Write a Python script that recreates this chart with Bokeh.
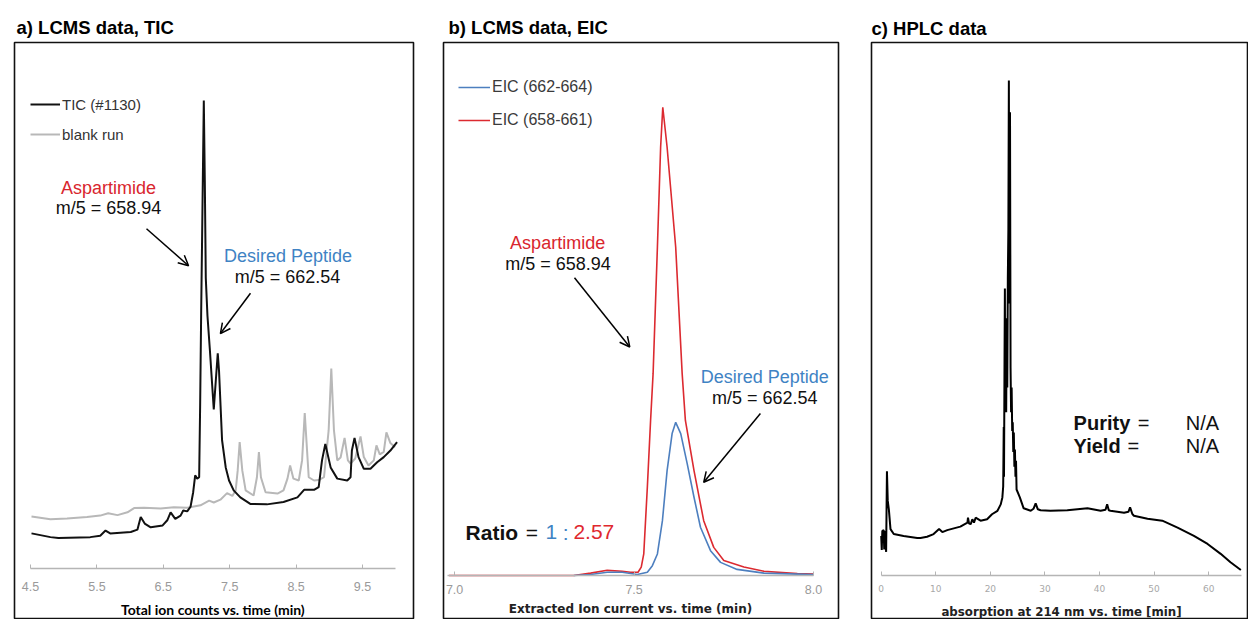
from bokeh.plotting import figure
from bokeh.layouts import row
from bokeh.models import (Label, Arrow, OpenHead, Legend, LegendItem, FixedTicker, Range1d,
                          PrintfTickFormatter)
from bokeh.embed import file_html
from bokeh.resources import INLINE

# ---------------- Panel a: LCMS TIC ----------------
tic_time = [4.515, 4.80, 4.92, 5.40, 5.55, 5.63, 5.70, 6.01, 6.11, 6.16, 6.22, 6.31, 6.49, 6.56,
            6.61, 6.68, 6.76, 6.80, 6.86, 6.91, 6.95, 6.98, 7.01, 7.04, 7.055, 7.07, 7.095, 7.11,
            7.125, 7.14, 7.165, 7.20, 7.26, 7.29, 7.32, 7.34, 7.385, 7.44, 7.49, 7.56, 7.66, 7.81,
            8.06, 8.31, 8.52, 8.62, 8.77, 8.84, 8.89, 8.94, 9.02, 9.12, 9.27, 9.32, 9.34, 9.38,
            9.44, 9.52, 9.62, 9.72, 9.82, 9.92, 10.02]
tic_counts = [7.5, 6.7, 6.5, 6.7, 7.0, 8.1, 7.5, 7.8, 8.3, 11.0, 9.6, 8.8, 9.2, 10.3,
              12.0, 10.6, 11.3, 12.4, 12.2, 13.2, 16.3, 19.9, 19.2, 19.5, 35.0, 54.4, 82.9, 100.0,
              82.9, 62.0, 54.0, 47.0, 34.0, 40.0, 46.0, 42.0, 27.4, 21.6, 18.8, 16.7, 15.2, 13.8,
              13.7, 14.2, 15.2, 16.8, 16.8, 17.4, 23.1, 26.6, 21.6, 19.2, 18.8, 19.5, 25.2, 27.9,
              23.8, 21.3, 21.3, 22.7, 23.8, 25.2, 27.0]
blank_time = [4.515, 4.80, 5.05, 5.35, 5.55, 5.67, 5.81, 5.96, 6.06, 6.21, 6.46, 6.66, 6.86,
              7.06, 7.19, 7.26, 7.36, 7.46, 7.54, 7.59, 7.62, 7.65, 7.69, 7.74, 7.86, 7.91,
              7.94, 7.97, 8.04, 8.22, 8.31, 8.37, 8.41, 8.46, 8.54, 8.59, 8.63, 8.69, 8.77,
              8.84, 8.92, 8.99, 9.03, 9.07, 9.12, 9.17, 9.23, 9.28, 9.32, 9.39, 9.47, 9.52,
              9.59, 9.67, 9.71, 9.76, 9.82, 9.86, 9.92, 9.99]
blank_counts = [11.1, 10.5, 10.7, 11.0, 11.3, 11.8, 11.4, 12.0, 12.9, 13.0, 12.8, 13.1, 13.0,
                13.5, 14.5, 14.1, 14.7, 16.1, 15.5, 16.7, 20.9, 27.0, 20.9, 16.7, 15.6, 19.5,
                24.9, 19.5, 16.3, 16.0, 16.7, 19.2, 22.0, 19.2, 18.8, 23.1, 33.2, 19.5, 18.8,
                18.9, 19.5, 29.5, 42.7, 29.5, 23.1, 23.7, 27.9, 23.1, 22.4, 23.5, 28.2, 23.8,
                22.0, 23.1, 26.3, 24.4, 24.9, 29.1, 26.8, 25.9]
ticks_a = [4.5, 5.5, 6.5, 7.5, 8.5, 9.5]

# ---------------- Panel b: LCMS EIC ----------------
eic_red_time = [6.984, 7.332, 7.379, 7.425, 7.467, 7.490, 7.511, 7.520, 7.527, 7.537, 7.546,
                7.553, 7.565, 7.574, 7.580, 7.592, 7.616, 7.634, 7.643, 7.667, 7.694, 7.722,
                7.750, 7.806, 7.862, 7.955, 8.001]
eic_red = [0.0, 0.0, 0.5, 1.1, 0.9, 0.7, 0.7, 1.8, 4.6, 18.9, 33.1, 43.1, 70.1, 91.5, 100.0,
           91.5, 70.1, 43.1, 33.1, 22.4, 11.7, 6.0, 3.2, 1.8, 0.9, 0.4, 0.3]
eic_blue_time = [7.332, 7.379, 7.425, 7.467, 7.509, 7.537, 7.551, 7.565, 7.579, 7.592, 7.606,
                 7.616, 7.630, 7.648, 7.667, 7.685, 7.713, 7.741, 7.787, 7.862, 7.955, 8.001]
eic_blue = [0.0, 0.2, 0.7, 0.7, 0.2, 0.7, 2.1, 4.6, 11.7, 22.4, 30.3, 32.7, 30.3, 23.9, 16.7,
            10.3, 5.3, 2.8, 1.3, 0.5, 0.3, 0.2]
ticks_b = [7.0, 7.5, 8.0]

# ---------------- Panel c: HPLC ----------------
hplc_time = [0.0, 0.1, 0.2, 0.45, 0.55, 0.75, 0.9, 1.05, 1.2, 1.4, 1.7, 2.3, 4.1, 6.6, 7.2, 8.4,
             9.6, 10.6, 11.2, 12.1, 14.5, 15.8, 15.9, 16.1, 16.4, 16.7, 17.0, 17.3, 18.2, 19.4,
             20.3, 21.3, 21.9, 22.2, 22.35, 22.45, 22.5, 22.6, 22.66, 22.72, 22.8, 22.9, 23.0,
             23.1, 23.2, 23.3, 23.39, 23.48, 23.6, 23.7, 23.8, 23.9, 24.0, 24.1, 24.2, 24.3,
             24.4, 24.5, 24.6, 24.7, 24.8, 25.4, 26.1, 27.4, 27.9, 28.3, 28.7, 29.2, 31.0, 34.1,
             37.8, 40.2, 41.1, 41.4, 41.7, 42.0, 44.5, 45.3, 45.6, 46.0, 46.3, 48.8, 51.5, 54.3,
             57.3, 59.8, 62.2, 64.0, 65.9]
hplc_abs = [8.0, 5.2, 9.0, 9.2, 5.3, 9.0, 4.8, 21.1, 15.1, 13.4, 9.4, 8.4, 8.0, 7.6, 7.6, 7.85,
            8.4, 9.4, 8.8, 9.2, 9.9, 10.7, 11.7, 10.5, 10.4, 11.4, 10.7, 11.7, 11.1, 11.4,
            12.4, 13.1, 14.4, 15.8, 18.0, 30.0, 20.0, 45.0, 58.0, 35.0, 48.0, 33.0, 52.0,
            38.0, 60.0, 70.0, 100.0, 55.0, 93.6, 42.0, 33.0, 38.0, 29.2, 31.0, 25.0, 28.9,
            22.0, 25.5, 20.0, 23.2, 17.4, 15.8, 13.6, 13.1, 13.5, 14.6, 13.4, 13.2, 13.1, 13.2,
            13.6, 13.1, 13.3, 14.4, 13.2, 13.1, 12.7, 12.9, 13.8, 12.5, 12.1, 11.5, 11.1, 9.7,
            8.05, 6.4, 4.4, 2.7, 1.15]
ticks_c = [0, 10, 20, 30, 40, 50, 60]

HEIGHT = 619
SANS = "Liberation Sans"
RED = "#d9262e"
BLUE = "#3f83c4"


def make_panel(title, width, xr, yr, bl, br, bt, toff, bounds, ticks):
    p = figure(width=width, height=HEIGHT, x_range=Range1d(*xr), y_range=Range1d(*yr),
               output_backend="svg", toolbar_location=None, y_axis_location=None,
               min_border_left=bl, min_border_right=br, min_border_top=bt, min_border_bottom=0)
    p.grid.visible = False
    p.outline_line_color = "#111111"
    p.outline_line_width = 1.6
    p.background_fill_color = "white"
    p.border_fill_color = "white"
    p.title.text = title
    p.title.text_font = SANS
    p.title.text_font_size = "18.5px"
    p.title.text_font_style = "bold"
    p.title.text_color = "black"
    p.title.align = "left"
    p.title.offset = toff
    p.title.standoff = 10
    ax = p.xaxis[0]
    ax.fixed_location = 0
    ax.bounds = bounds
    ax.ticker = FixedTicker(ticks=ticks)
    ax.minor_tick_line_color = None
    ax.axis_line_color = "#b5b5b5"
    ax.axis_line_width = 1.5
    ax.major_tick_line_color = "#b5b5b5"
    ax.major_tick_in = 4
    ax.major_tick_out = 0
    ax.major_label_text_color = "#9a9a9a"
    return p


# ---- panel a ----
pa = make_panel("a) LCMS data, TIC", 438, (4.259, 10.268), (-10.9, 112.39), 14, 25, 42, 2,
                (4.5, 10.0), ticks_a)
ax = pa.xaxis[0]
ax.formatter = PrintfTickFormatter(format="%.1f")
ax.major_label_text_font = SANS
ax.major_label_text_font_size = "12.5px"
ax.major_label_standoff = 14
ax.axis_label = "Total ion counts vs. time (min)"
ax.axis_label_text_font = "Lato"
ax.axis_label_text_font_style = "bold"
ax.axis_label_text_font_size = "14px"
ax.axis_label_text_color = "black"
ax.axis_label_standoff = 6
r_blank = pa.line(blank_time, blank_counts, line_color="#b8b8b8", line_width=2)
r_tic = pa.line(tic_time, tic_counts, line_color="#111111", line_width=2)
leg_a = Legend(items=[LegendItem(label="TIC (#1130)", renderers=[r_tic]),
                      LegendItem(label="blank run", renderers=[r_blank])],
               location=(16, 475), padding=0, spacing=10, glyph_width=30, glyph_height=20,
               label_height=20, label_standoff=2, label_text_font=SANS,
               label_text_font_size="15px", label_text_color="#333333",
               background_fill_alpha=0, border_line_color=None)
pa.add_layout(leg_a)
pa.add_layout(Label(x=5.675, y=81.4, text="Aspartimide", text_align="center",
                    text_baseline="middle", text_font=SANS, text_font_size="18px", text_color=RED))
pa.add_layout(Label(x=5.675, y=77.1, text="m/5 = 658.94", text_align="center",
                    text_baseline="middle", text_font=SANS, text_font_size="18px", text_color="#111111"))
pa.add_layout(Label(x=8.378, y=66.7, text="Desired Peptide", text_align="center",
                    text_baseline="middle", text_font=SANS, text_font_size="18px", text_color=BLUE))
pa.add_layout(Label(x=8.37, y=62.2, text="m/5 = 662.54", text_align="center",
                    text_baseline="middle", text_font=SANS, text_font_size="18px", text_color="#111111"))
pa.add_layout(Arrow(end=OpenHead(size=10, line_width=1.5), x_start=6.247, y_start=72.6,
                    x_end=6.88, y_end=64.7, line_width=1.5))
pa.add_layout(Arrow(end=OpenHead(size=10, line_width=1.5), x_start=7.813, y_start=58.8,
                    x_end=7.36, y_end=50.2, line_width=1.5))

# ---- panel b ----
pb = make_panel("b) LCMS data, EIC", 422, (6.969, 8.0696), (-9.40, 113.82), 5, 22, 42, 5,
                (6.98, 8.0), ticks_b)
ax = pb.xaxis[0]
ax.formatter = PrintfTickFormatter(format="%.1f")
ax.major_label_text_font = SANS
ax.major_label_text_font_size = "12.5px"
ax.major_label_standoff = 10
ax.axis_label = "Extracted Ion current vs. time (min)"
ax.axis_label_text_font = "DejaVu Sans"
ax.axis_label_text_font_style = "bold"
ax.axis_label_text_font_size = "12px"
ax.axis_label_text_color = "#222222"
ax.axis_label_standoff = 4
r_red = pb.line(eic_red_time, eic_red, line_color="#dc2a30", line_width=1.6)
r_blue = pb.line(eic_blue_time, eic_blue, line_color="#4d7fbf", line_width=1.6)
leg_b = Legend(items=[LegendItem(label="EIC (662-664)", renderers=[r_blue]),
                      LegendItem(label="EIC (658-661)", renderers=[r_red])],
               location=(15, 489), padding=0, spacing=13, glyph_width=32, glyph_height=20,
               label_height=20, label_standoff=2, label_text_font=SANS,
               label_text_font_size="16px", label_text_color="#3a3a3a",
               background_fill_alpha=0, border_line_color=None)
pb.add_layout(leg_b)
pb.add_layout(Label(x=7.287, y=70.9, text="Aspartimide", text_align="center",
                    text_baseline="middle", text_font=SANS, text_font_size="18px", text_color=RED))
pb.add_layout(Label(x=7.288, y=66.6, text="m/5 = 658.94", text_align="center",
                    text_baseline="middle", text_font=SANS, text_font_size="18px", text_color="#111111"))
pb.add_layout(Label(x=7.864, y=42.3, text="Desired Peptide", text_align="center",
                    text_baseline="middle", text_font=SANS, text_font_size="18px", text_color=BLUE))
pb.add_layout(Label(x=7.864, y=38.0, text="m/5 = 662.54", text_align="center",
                    text_baseline="middle", text_font=SANS, text_font_size="18px", text_color="#111111"))
pb.add_layout(Arrow(end=OpenHead(size=10, line_width=1.5), x_start=7.334, y_start=63.6,
                    x_end=7.488, y_end=48.8, line_width=1.5))
pb.add_layout(Arrow(end=OpenHead(size=10, line_width=1.5), x_start=7.852, y_start=34.6,
                    x_end=7.694, y_end=19.9, line_width=1.5))
for txt, xx, col, style in [("Ratio", 7.0306, "#111111", "bold"), ("=", 7.198, "#111111", "normal"),
                            ("1", 7.2535, BLUE, "normal"), (":", 7.301, BLUE, "normal"),
                            ("2.57", 7.331, "#e0282e", "normal")]:
    pb.add_layout(Label(x=xx, y=9.25, text=txt, text_align="left", text_baseline="middle",
                        text_font=SANS, text_font_size="21px", text_font_style=style, text_color=col))

# ---- panel c ----
pc = make_panel("c) HPLC data", 388, (-1.78, 67.3), (-8.86, 107.7), 11, 0, 40, 0,
                (0, 66), ticks_c)
pc.title.standoff = 8
ax = pc.xaxis[0]
ax.major_label_text_font = "DejaVu Sans"
ax.major_label_text_font_size = "9px"
ax.major_label_text_color = "#a8a8a8"
ax.major_label_standoff = 9
ax.axis_label = "absorption at 214 nm vs. time [min]"
ax.axis_label_text_font = "DejaVu Sans"
ax.axis_label_text_font_style = "bold"
ax.axis_label_text_font_size = "11.8px"
ax.axis_label_text_color = "#222222"
ax.axis_label_standoff = 10
pc.line(hplc_time, hplc_abs, line_color="#000000", line_width=2)
for txt, xx, yy, style in [("Purity", 35.25, 30.9, "bold"), ("=", 47.0, 30.9, "normal"),
                           ("N/A", 55.8, 30.9, "normal"), ("Yield", 35.25, 26.2, "bold"),
                           ("=", 45.15, 26.2, "normal"), ("N/A", 55.8, 26.2, "normal")]:
    pc.add_layout(Label(x=xx, y=yy, text=txt, text_align="left", text_baseline="middle",
                        text_font=SANS, text_font_size="20px", text_font_style=style,
                        text_color="#111111"))

layout = row(pa, pb, pc)
open("out.html", "w").write(file_html(layout, INLINE))
